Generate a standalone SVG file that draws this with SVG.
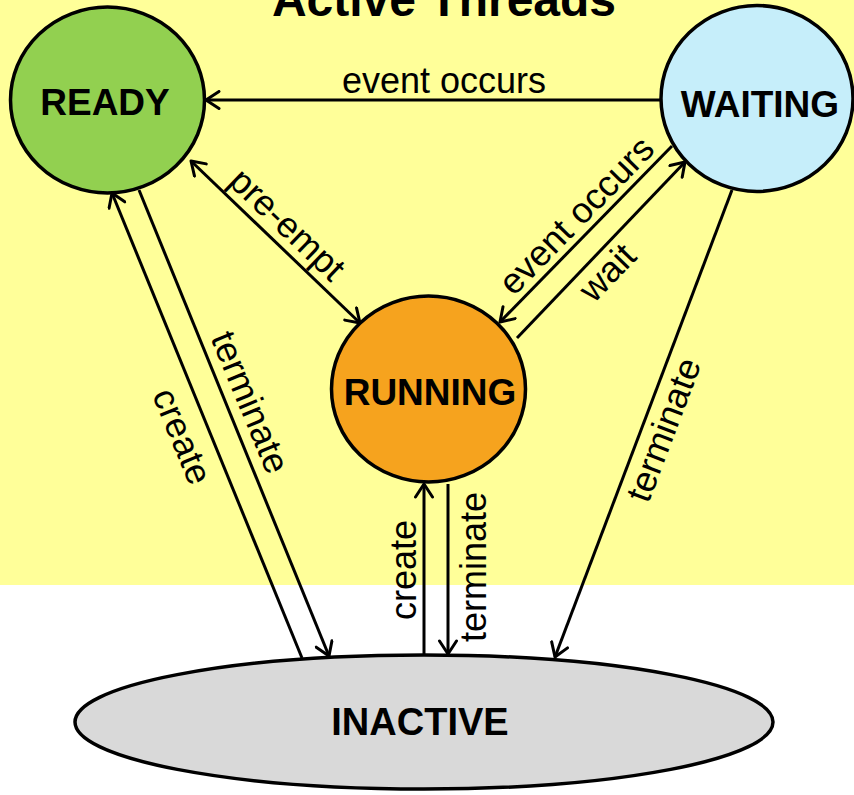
<svg xmlns="http://www.w3.org/2000/svg" width="854" height="795" viewBox="0 0 854 795">
<style>
.node{stroke:#000;stroke-width:3.5}
.title{font-family:"Liberation Sans",Arial,sans-serif;font-weight:bold;font-size:37px;fill:#000;text-anchor:middle}
.lbl{font-family:"Liberation Sans",Arial,sans-serif;font-size:36px;fill:#000;text-anchor:middle}
.edge{stroke:#000;stroke-width:3;fill:none}
</style>
<defs>
<marker id="arr" markerUnits="userSpaceOnUse" viewBox="0 0 20 20" markerWidth="20" markerHeight="20" refX="16" refY="10" orient="auto-start-reverse">
<path d="M3,1.5 L16,10 L3,18.5" fill="none" stroke="#000" stroke-width="3" stroke-linejoin="round" stroke-linecap="round"/>
</marker>
</defs>
<rect x="0" y="0" width="854" height="585" fill="#FFFF99"/>
<rect x="0" y="585" width="854" height="210" fill="#FFFFFF"/>
<text x="444" y="16" class="title" style="font-size:48px">Active Threads</text>

<g id="connectors">
<line class="edge" x1="661" y1="100" x2="206" y2="100" marker-end="url(#arr)"/>
<line class="edge" x1="191" y1="161" x2="360" y2="323" marker-start="url(#arr)" marker-end="url(#arr)"/>
<line class="edge" x1="672" y1="146" x2="500" y2="322" marker-end="url(#arr)"/>
<line class="edge" x1="517" y1="338" x2="685" y2="162" marker-end="url(#arr)"/>
<line class="edge" x1="302" y1="658" x2="112" y2="193" marker-end="url(#arr)"/>
<line class="edge" x1="139" y1="190" x2="329" y2="656" marker-end="url(#arr)"/>
<line class="edge" x1="424" y1="655" x2="424" y2="484" marker-end="url(#arr)"/>
<line class="edge" x1="448" y1="484" x2="448" y2="654" marker-end="url(#arr)"/>
<line class="edge" x1="732" y1="190" x2="555" y2="657" marker-end="url(#arr)"/>
<text class="lbl" x="444" y="93">event occurs</text>
<text class="lbl" transform="translate(279,233) rotate(43.8)">pre-empt</text>
<text class="lbl" transform="translate(585,224) rotate(-45.7)">event occurs</text>
<text class="lbl" transform="translate(616,281) rotate(-45.7)">wait</text>
<text class="lbl" transform="translate(171,441) rotate(67.5)">create</text>
<text class="lbl" transform="translate(239,407) rotate(67.5)">terminate</text>
<text class="lbl" transform="translate(416,570) rotate(-90)">create</text>
<text class="lbl" transform="translate(486,567) rotate(-90)">terminate</text>
<text class="lbl" transform="translate(675,434) rotate(-69.2)">terminate</text>
</g>

<g id="ready">
<ellipse class="node" cx="107.5" cy="100" rx="97" ry="93" fill="#92D050"/>
<text class="title" x="105" y="115">READY</text>
</g>
<g id="waiting">
<ellipse class="node" cx="757" cy="98.5" rx="96" ry="93" fill="#C6EEFA"/>
<text class="title" x="760" y="117">WAITING</text>
</g>
<g id="running">
<ellipse class="node" cx="428.5" cy="389" rx="97" ry="93" fill="#F6A31E"/>
<text class="title" x="430" y="405">RUNNING</text>
</g>
<g id="inactive">
<ellipse class="node" cx="424" cy="722" rx="349" ry="67" fill="#D9D9D9"/>
<text class="title" x="420" y="735" style="font-size:38px">INACTIVE</text>
</g>
</svg>
